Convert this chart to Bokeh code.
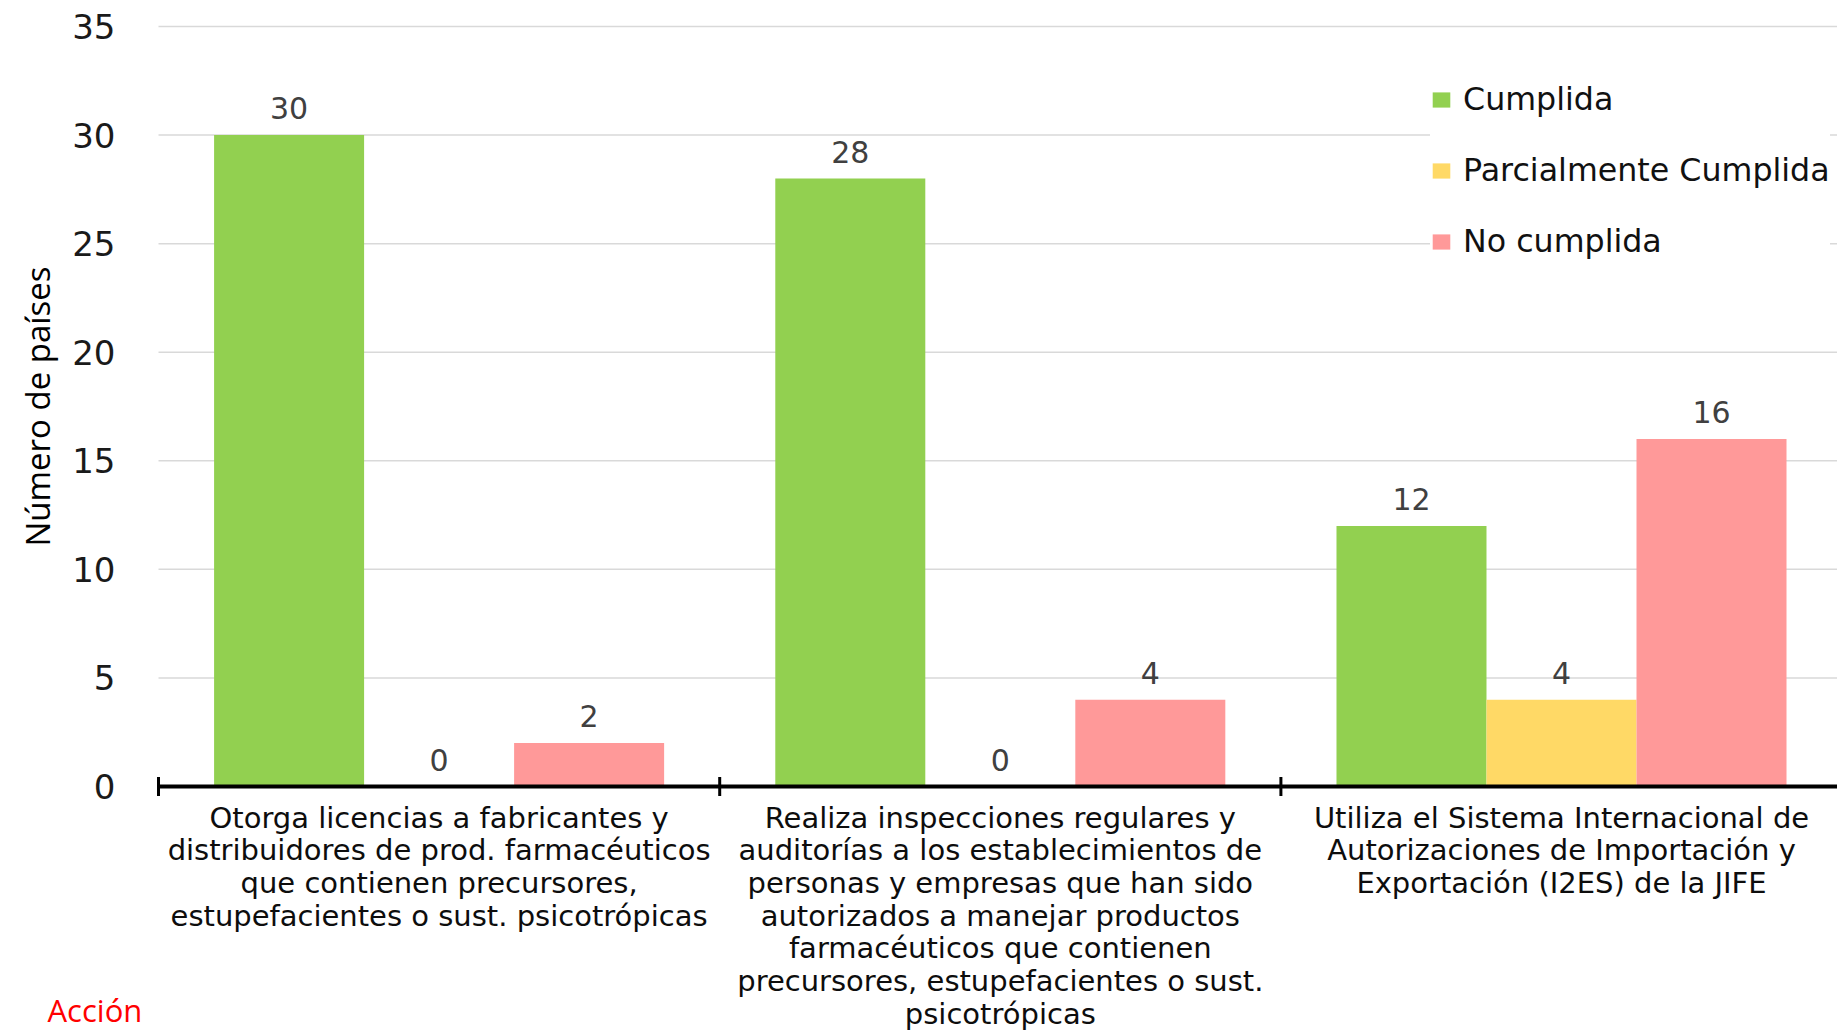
import math
from bokeh.plotting import figure
from bokeh.models import Range1d, ColumnDataSource
from bokeh.core.properties import value
from bokeh.transform import dodge
from bokeh.embed import file_html
from bokeh.resources import INLINE

# ---- data ----
categories = [
    ["Otorga licencias a fabricantes y",
     "distribuidores de prod. farmacéuticos",
     "que contienen precursores,",
     "estupefacientes o sust. psicotrópicas"],
    ["Realiza inspecciones regulares y",
     "auditorías a los establecimientos de",
     "personas y empresas que han sido",
     "autorizados a manejar productos",
     "farmacéuticos que contienen",
     "precursores, estupefacientes o sust.",
     "psicotrópicas"],
    ["Utiliza el Sistema Internacional de",
     "Autorizaciones de Importación y",
     "Exportación (I2ES) de la JIFE"],
]
series_names = ["Cumplida", "Parcialmente Cumplida", "No cumplida"]
cumplida = [30, 28, 12]
parcialmente = [0, 0, 4]
no_cumplida = [2, 4, 16]
y_ticks = [0, 5, 10, 15, 20, 25, 30, 35]
y_axis_title = "Número de países"
x_axis_title = "Acción"

colors = ["#92D050", "#FFD966", "#FF9999"]

# ---- figure (frame fills the whole canvas; axes drawn by hand) ----
W, H = 1837, 1031
X0, Y0 = -0.28154, -11.283
X1, Y1 = 2.9918, 36.198
p = figure(width=W, height=H, x_range=Range1d(X0, X1), y_range=Range1d(Y0, Y1),
           output_backend="svg", toolbar_location=None,
           min_border_left=0, min_border_right=0, min_border_top=0, min_border_bottom=0)
p.outline_line_color = None
p.background_fill_color = "white"
p.border_fill_color = "white"
p.xaxis.visible = False
p.yaxis.visible = False
p.grid.visible = False

ncat = len(categories)
xc = [i + 0.5 for i in range(ncat)]

# gridlines
p.segment(x0=[0] * len(y_ticks), x1=[ncat] * len(y_ticks), y0=y_ticks, y1=y_ticks,
          line_color="#D9D9D9", line_width=1.5)

src = ColumnDataSource(dict(
    x=xc,
    cumplida=cumplida, parcialmente=parcialmente, no_cumplida=no_cumplida,
    l_cumplida=[str(v) for v in cumplida],
    l_parcialmente=[str(v) for v in parcialmente],
    l_no_cumplida=[str(v) for v in no_cumplida],
))

bw = 0.2673
keys = ["cumplida", "parcialmente", "no_cumplida"]
offsets = [-bw, 0.0, bw]
for key, name, col, off in zip(keys, series_names, colors, offsets):
    p.vbar(x=dodge("x", off, range=p.x_range), top=key, width=bw, bottom=0,
           source=src, fill_color=col, line_color=None, legend_label=name)
    p.text(x=dodge("x", off, range=p.x_range), y=key, text="l_" + key, source=src,
           text_align="center", text_baseline="middle", y_offset=-27,
           text_font_size="30px", text_font=value("DejaVu Sans"), text_color="#404040")

# x axis line and category boundary ticks
p.segment(x0=[0], x1=[ncat], y0=[0], y1=[0], line_color="black", line_width=4)
bounds = list(range(ncat + 1))
p.scatter(x=bounds, y=[0] * len(bounds), marker="dash", size=19, angle=math.pi / 2,
          line_color="black", line_width=3)

# y tick labels
p.text(x=[0] * len(y_ticks), y=y_ticks, text=[str(t) for t in y_ticks], x_offset=-43,
       text_align="right", text_baseline="middle", text_font=value("DejaVu Sans"),
       text_font_size="34px", text_color="#1a1a1a")

# y axis title
p.text(x=[X0], y=[(y_ticks[0] + y_ticks[-1]) / 2], text=[y_axis_title], x_offset=37,
       angle=math.pi / 2, text_align="center", text_baseline="middle",
       text_font=value("Open Sans"), text_font_size="33px", text_color="black")

# category labels under the axis
lx, ly, lt, lo = [], [], [], []
for i, lines in enumerate(categories):
    for j, line in enumerate(lines):
        lx.append(xc[i]); ly.append(0); lt.append(line); lo.append(31 + 32.7 * j)
p.text(x=lx, y=ly, text=lt, y_offset=lo, text_align="center", text_baseline="middle",
       text_font=value("DejaVu Sans"), text_font_size="29px", text_color="#0d0d0d")

# x axis title
p.text(x=[X0], y=[0], text=[x_axis_title], x_offset=47, y_offset=223,
       text_align="left", text_baseline="middle", text_font=value("Open Sans"),
       text_font_size="31px", text_color="#FF0000")

# ---- legend ----
lg = p.legend[0]
lg.location = (1430, 772)
lg.margin = 0
lg.padding = 24
lg.spacing = 35
lg.label_height = 35
lg.glyph_height = 19
lg.glyph_width = 22
lg.label_standoff = 11
lg.label_text_font = "DejaVu Sans"
lg.label_text_font_size = "31.7px"
lg.label_text_color = "#111111"
lg.border_line_color = None
lg.background_fill_color = "white"
lg.background_fill_alpha = 1.0

open("out.html", "w").write(file_html(p, INLINE))
